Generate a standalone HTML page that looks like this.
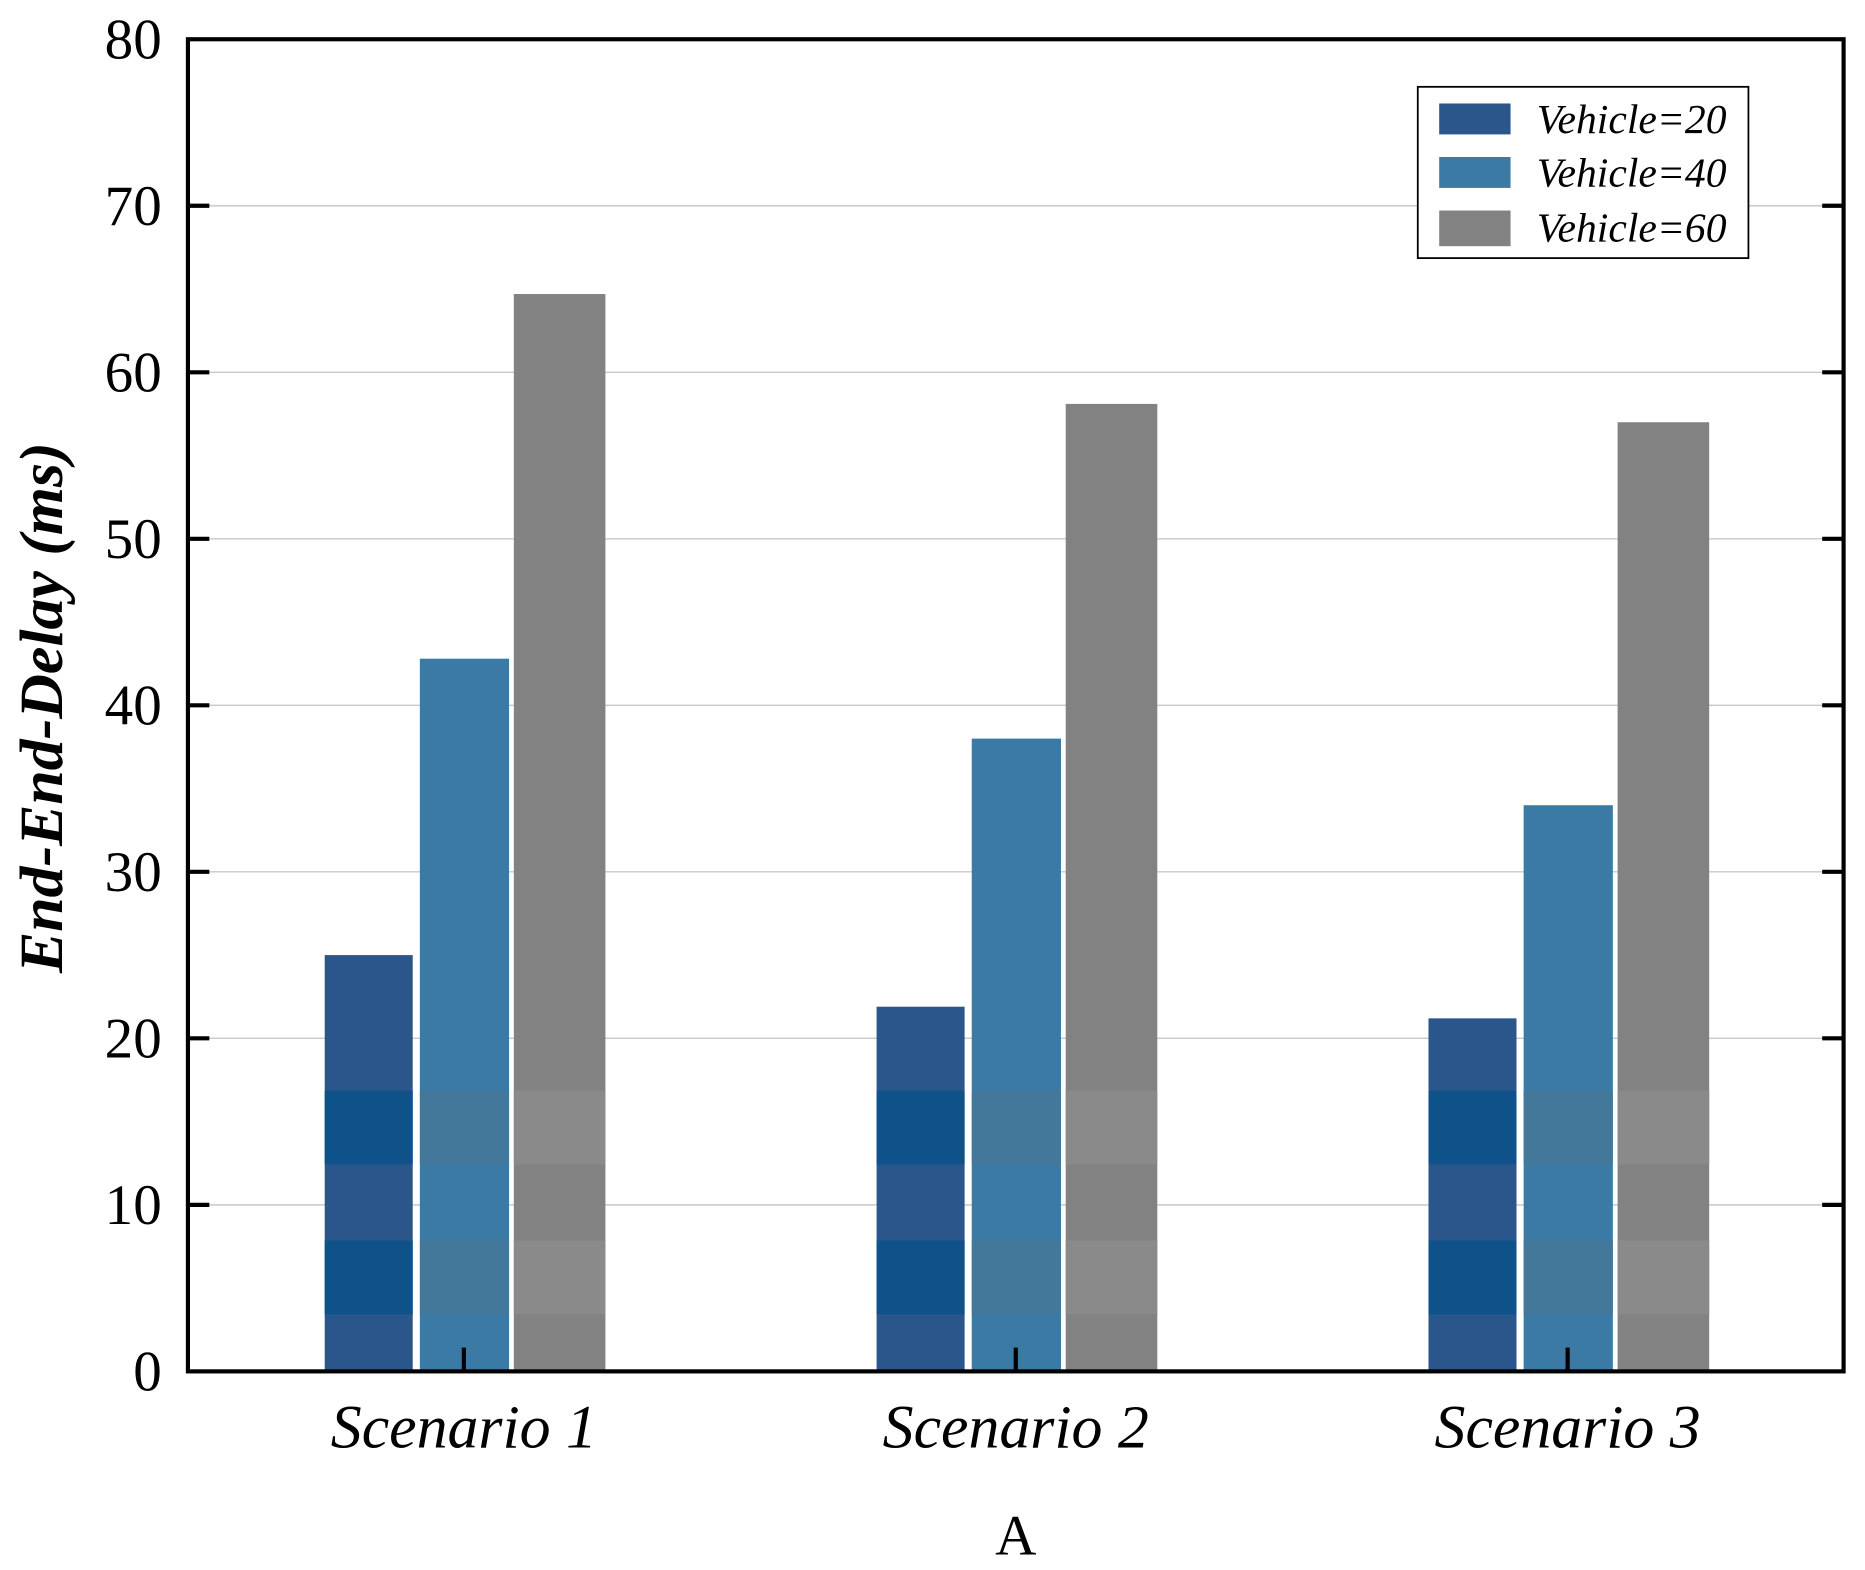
<!DOCTYPE html>
<html><head><meta charset="utf-8"><style>
html,body{margin:0;padding:0;background:#fff;}
svg{display:block;font-family:"Liberation Serif",serif;}
</style></head><body>
<svg id="chart" width="1865" height="1570" viewBox="0 0 1568 1320" preserveAspectRatio="none" xmlns="http://www.w3.org/2000/svg">
<g id="grid"></g>
<g id="bars"></g>
<rect x="158" y="33" width="1392" height="1120" fill="none" stroke="#000" stroke-width="3.5"/>
<g id="ticks"></g>
<text transform="translate(52,595) rotate(-90)" text-anchor="middle" font-size="52" font-weight="bold" font-style="italic">End-End-Delay (ms)</text>
<text x="854" y="1307" text-anchor="middle" font-size="48">A</text>
<g>
<rect x="1192" y="73" width="278" height="144" fill="#fff" stroke="#000" stroke-width="1.5"/>
<rect x="1210" y="87" width="60" height="26" fill="#2b568c"/>
<text x="1292" y="112" font-size="35" font-style="italic">Vehicle=20</text>
<rect x="1210" y="132" width="60" height="26" fill="#3a7aa4"/>
<text x="1292" y="157" font-size="35" font-style="italic">Vehicle=40</text>
<rect x="1210" y="177" width="60" height="30" fill="#828282"/>
<text x="1292" y="203" font-size="35" font-style="italic">Vehicle=60</text>
</g>
</svg>
<script>
const categories=["Scenario 1","Scenario 2","Scenario 3"];
const series20=[25,21.9,21.2];
const series40=[42.8,38,34];
const series60=[64.7,58.1,57];
const yTicks=[0,10,20,30,40,50,60,70,80];
const NS="http://www.w3.org/2000/svg";
const y=v=>1153-v*14;
const cx=i=>390+i*464;
const mk=(t,a,p)=>{const e=document.createElementNS(NS,t);for(const k in a)e.setAttribute(k,a[k]);p.appendChild(e);return e;};
const grid=document.getElementById('grid'),bars=document.getElementById('bars'),ticks=document.getElementById('ticks');
yTicks.forEach(v=>{
  if(v>0&&v<80){
    const g=mk('line',{x1:158,x2:1550,y1:y(v),y2:y(v),stroke:'#c8c8c8','stroke-width':1.2},grid);
    
    
    mk('line',{x1:158,x2:176,y1:y(v),y2:y(v),stroke:'#000','stroke-width':3.5},ticks);
    mk('line',{x1:1532,x2:1550,y1:y(v),y2:y(v),stroke:'#000','stroke-width':3.5},ticks);
  }
  const t=mk('text',{x:136,y:y(v)+16,'text-anchor':'end','font-size':48},ticks);t.textContent=v;
  
  
});
const ser=[[series20,'#2b568c',-117,74],[series40,'#3a7aa4',-37,75],[series60,'#828282',42,77]];
categories.forEach((c,i)=>{
  ser.forEach(([d,col,off,w],k)=>{
    const r=mk('rect',{x:cx(i)+off,y:y(d[i]),width:w,height:y(0)-y(d[i]),fill:col},bars);
    
    
    [[917,979],[1043,1105]].forEach(([a,b])=>{
      if(y(d[i])<a) mk('rect',{x:cx(i)+off,y:a,width:w,height:b-a,fill:k==0?'#0f5289':k==1?'#44789a':'#8a8a8a'},bars);
    });
  });
  mk('line',{x1:cx(i),x2:cx(i),y1:1133,y2:1153,stroke:'#000','stroke-width':3.5},ticks);
  const t=mk('text',{x:cx(i),y:1217,'text-anchor':'middle','font-size':52,'font-style':'italic'},ticks);t.textContent=c;
  
  
});
</script>
</body></html>
